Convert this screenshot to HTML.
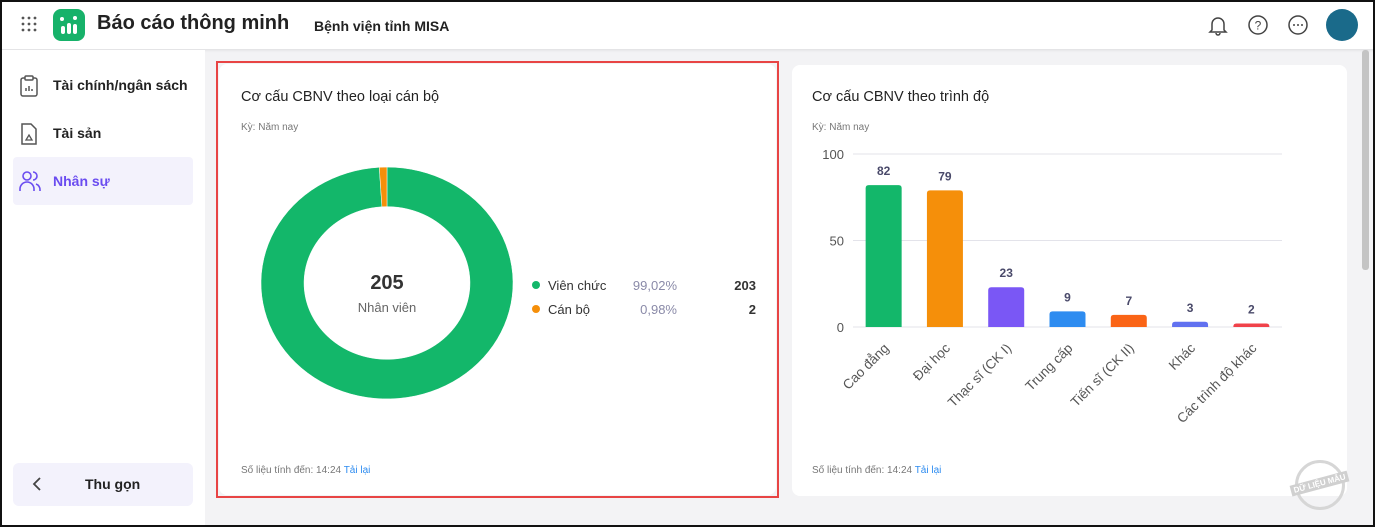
<!DOCTYPE html>
<html><head><meta charset="utf-8">
<style>
*{box-sizing:border-box;margin:0;padding:0}
body{width:1375px;height:527px;overflow:hidden;background:#f3f3f5;font-family:"Liberation Sans","Noto Sans CJK SC",sans-serif;position:relative;color:#222}
.frame{position:absolute;left:0;top:0;width:1375px;height:527px;border:2px solid #111;pointer-events:none;z-index:10}
.abs{position:absolute}
</style></head><body>
<div class="frame"></div>
<div class="abs" style="left:0;top:0;width:1375px;height:49px;background:#fff;box-shadow:0 1px 3px rgba(0,0,0,.1)">
  <svg class="abs" style="left:21px;top:16px" width="16" height="16"><g fill="#555"><circle cx="2" cy="2" r="1.4"/><circle cx="8" cy="2" r="1.4"/><circle cx="14" cy="2" r="1.4"/><circle cx="2" cy="8" r="1.4"/><circle cx="8" cy="8" r="1.4"/><circle cx="14" cy="8" r="1.4"/><circle cx="2" cy="14" r="1.4"/><circle cx="8" cy="14" r="1.4"/><circle cx="14" cy="14" r="1.4"/></g></svg>
  <svg class="abs" style="left:53px;top:9px" width="32" height="32"><rect width="32" height="32" rx="8" fill="#17b26a"/><g fill="#fff"><rect x="8" y="17" width="4" height="8" rx="2"/><rect x="14" y="14" width="4" height="11" rx="2"/><rect x="20" y="15" width="4" height="10" rx="2"/><circle cx="9" cy="10" r="2"/><circle cx="22" cy="9" r="2"/></g></svg>
  <div class="abs" style="left:97px;top:12px;font-size:20px;font-weight:bold;color:#222">Báo cáo thông minh</div>
  <div class="abs" style="left:314px;top:18px;font-size:14px;font-weight:bold;color:#222">Bệnh viện tỉnh MISA</div>
  <svg class="abs" style="left:1207px;top:14px" width="22" height="22"><path d="M5 16V10a6 6 0 0 1 12 0v6l2 2H3z M9 19a2 2 0 0 0 4 0" fill="none" stroke="#444" stroke-width="1.5"/></svg>
  <svg class="abs" style="left:1247px;top:14px" width="22" height="22"><circle cx="11" cy="11" r="9" fill="none" stroke="#444" stroke-width="1.5"/><text x="11" y="15.5" text-anchor="middle" font-size="12" font-family="Liberation Sans" fill="#444">?</text></svg>
  <svg class="abs" style="left:1287px;top:14px" width="22" height="22"><circle cx="11" cy="11" r="9" fill="none" stroke="#444" stroke-width="1.5"/><g fill="#444"><circle cx="7" cy="11" r="1"/><circle cx="11" cy="11" r="1"/><circle cx="15" cy="11" r="1"/></g></svg>
  <div class="abs" style="left:1326px;top:9px;width:32px;height:32px;border-radius:50%;background:#1a6a8a"></div>
</div>
<div class="abs" style="left:0;top:50px;width:205px;height:477px;background:#fff">
  <svg class="abs" style="left:20px;top:25px" width="18" height="22"><rect x="1" y="3" width="16" height="18" rx="2" fill="none" stroke="#555" stroke-width="1.5"/><rect x="5" y="1" width="8" height="4" rx="1" fill="#fff" stroke="#555" stroke-width="1.5"/><path d="M6 16v-3M9 16v-5M12 16v-2" stroke="#555" stroke-width="1.5"/></svg>
  <div class="abs" style="left:53px;top:27px;font-size:14px;font-weight:bold">Tài chính/ngân sách</div>
  <svg class="abs" style="left:20px;top:73px" width="18" height="22"><path d="M2 1h9l5 5v15H2z" fill="none" stroke="#555" stroke-width="1.5"/><path d="M6 17l3-5 3 5z" fill="none" stroke="#555" stroke-width="1.3"/></svg>
  <div class="abs" style="left:53px;top:75px;font-size:14px;font-weight:bold">Tài sản</div>
  <div class="abs" style="left:13px;top:107px;width:180px;height:48px;background:#f3f2fc;border-radius:4px"></div>
  <svg class="abs" style="left:19px;top:120px" width="22" height="22"><circle cx="8" cy="6" r="4" fill="none" stroke="#6a4cf0" stroke-width="1.6"/><path d="M1 21v-2a7 7 0 0 1 14 0v2M14 2a4 4 0 0 1 0 8M17 14a6 6 0 0 1 4 6v1" fill="none" stroke="#6a4cf0" stroke-width="1.6"/></svg>
  <div class="abs" style="left:53px;top:123px;font-size:14px;font-weight:bold;color:#6a4cf0">Nhân sự</div>
  <div class="abs" style="left:13px;top:413px;width:180px;height:43px;background:#f3f2fc;border-radius:6px">
    <svg class="abs" style="left:19px;top:13px" width="10" height="16"><path d="M8 2L2 8l6 6" fill="none" stroke="#444" stroke-width="1.8"/></svg>
    <div class="abs" style="left:72px;top:13px;font-size:14px;font-weight:bold">Thu gọn</div>
  </div>
</div>
<div class="abs" style="left:1362px;top:50px;width:7px;height:220px;background:#c4c4c4;border-radius:3px"></div>

<div class="abs" style="left:216px;top:61px;width:563px;height:437px;border:2px solid #e84444"></div>
<div class="abs" style="left:219px;top:64px;width:557px;height:431px;background:#fff;border-radius:8px">
  <div class="abs" style="left:22px;top:25px;font-size:14.5px;color:#222">Cơ cấu CBNV theo loại cán bộ</div>
  <div class="abs" style="left:22px;top:58px;font-size:10px;color:#777">Kỳ: Năm nay</div>
  <div class="abs" style="left:22px;top:401px;font-size:10px;color:#777">Số liệu tính đến: 14:24 <span style="color:#2e8cf0">Tải lại</span></div>
</div>
<svg class="abs" id="donut" style="left:219px;top:64px" width="557" height="431"></svg>

<div class="abs" style="left:792px;top:65px;width:555px;height:431px;background:#fff;border-radius:8px">
  <div class="abs" style="left:20px;top:24px;font-size:14.5px;color:#222">Cơ cấu CBNV theo trình độ</div>
  <div class="abs" style="left:20px;top:57px;font-size:10px;color:#777">Kỳ: Năm nay</div>
  <div class="abs" style="left:20px;top:400px;font-size:10px;color:#777">Số liệu tính đến: 14:24 <span style="color:#2e8cf0">Tải lại</span></div>
</div>
<svg class="abs" id="bar" style="left:0;top:0" width="1375" height="527"></svg>
<div class="abs" style="left:1295px;top:460px;width:50px;height:50px;border:3px solid #d6d6d6;border-radius:50%"></div>
<div class="abs" style="left:1290px;top:478px;background:#d0d0d0;color:#fff;font-size:8px;font-weight:bold;padding:1px 3px;transform:rotate(-15deg)">DỮ LIỆU MẪU</div>

<script>
const NS='http://www.w3.org/2000/svg';
function mk(p,t,a){const e=document.createElementNS(NS,t);for(const k in a)e.setAttribute(k,a[k]);p.appendChild(e);return e;}
// Donut data
const donutLabels=['Viên chức','Cán bộ'];
const donutValues=[203,2];
const donutPct=['99,02%','0,98%'];
const donutColors=['#13b76a','#f58f0a'];
const ds=document.getElementById('donut');
const cx=168,cy=219,R=126,r=83;
const ring=mk(ds,'g',{transform:`translate(0 ${cy*0.08}) scale(1 0.92)`});


const total=donutValues.reduce((a,b)=>a+b,0);
let ang=0;
donutValues.forEach((v,i)=>{
  const a0=ang,a1=ang+v/total*2*Math.PI;ang=a1;
  const p=(a,rr)=>[cx+rr*Math.sin(a),cy-rr*Math.cos(a)];
  const large=(a1-a0)>Math.PI?1:0;
  const [x0,y0]=p(a0,R),[x1,y1]=p(a1,R),[x2,y2]=p(a1,r),[x3,y3]=p(a0,r);
  const s=mk(ring,'path',{d:`M${x0},${y0}A${R},${R} 0 ${large} 1 ${x1},${y1}L${x2},${y2}A${r},${r} 0 ${large} 0 ${x3},${y3}Z`,fill:donutColors[i],stroke:'#fff','stroke-width':0.5});
  
  
  const ly=221+i*24;
  const dot=mk(ds,'circle',{cx:317,cy:ly,r:4,fill:donutColors[i]});
  
  
  const t1=mk(ds,'text',{x:329,y:ly+5,'font-size':13,fill:'#333'});t1.textContent=donutLabels[i];
  
  
  const t2=mk(ds,'text',{x:458,y:ly+5,'font-size':13,fill:'#8a8aa8','text-anchor':'end'});t2.textContent=donutPct[i];
  
  
  const t3=mk(ds,'text',{x:537,y:ly+5,'font-size':13,'font-weight':'bold',fill:'#333','text-anchor':'end'});t3.textContent=donutValues[i];
  
  
});
const ct=mk(ds,'text',{x:cx,y:cy+6,'font-size':20,'font-weight':'bold',fill:'#333','text-anchor':'middle'});ct.textContent=total;


const cl=mk(ds,'text',{x:cx,y:cy+29,'font-size':13,fill:'#666','text-anchor':'middle'});cl.textContent='Nhân viên';



// Bar data
const barCategories=['Cao đẳng','Đại học','Thạc sĩ (CK I)','Trung cấp','Tiến sĩ (CK II)','Khác','Các trình độ khác'];
const barValues=[82,79,23,9,7,3,2];
const barColors=['#13b76a','#f58f0a','#7a57f5','#2e8cf0','#fa6416','#6171f0','#f0424a'];
const yTicks=[0,50,100];
const bs=document.getElementById('bar');
const L=853,Rt=1282,Y0=327,Y100=154;
const y=v=>Y0-(v/100)*(Y0-Y100);
const band=(Rt-L)/barCategories.length;
const xc=i=>L+band*(i+0.5);
yTicks.forEach(t=>{
  const g=mk(bs,'line',{x1:L,x2:Rt,y1:y(t),y2:y(t),stroke:'#e3e3ea','stroke-width':1});
  
  
  const tl=mk(bs,'text',{x:844,y:y(t)+5,'font-size':13,fill:'#555','text-anchor':'end'});tl.textContent=t;
  
  
});
barValues.forEach((v,i)=>{
  const w=36,x=xc(i)-w/2;
  const b=mk(bs,'path',{d:`M${x},${Y0}V${y(v)+3}Q${x},${y(v)} ${x+3},${y(v)}H${x+w-3}Q${x+w},${y(v)} ${x+w},${y(v)+3}V${Y0}Z`,fill:barColors[i]});
  
  
  const vl=mk(bs,'text',{x:xc(i),y:y(v)-10,'font-size':12,'font-weight':'bold',fill:'#4a4a6a','text-anchor':'middle'});vl.textContent=v;
  
  
  const cxl=xc(i)+6,cyl=Y0+22;
  const xl=mk(bs,'text',{x:cxl,y:cyl,'font-size':13.5,fill:'#555','text-anchor':'end',transform:`rotate(-45 ${cxl} ${cyl})`});xl.textContent=barCategories[i];
  
  
});
</script>
</body></html>
